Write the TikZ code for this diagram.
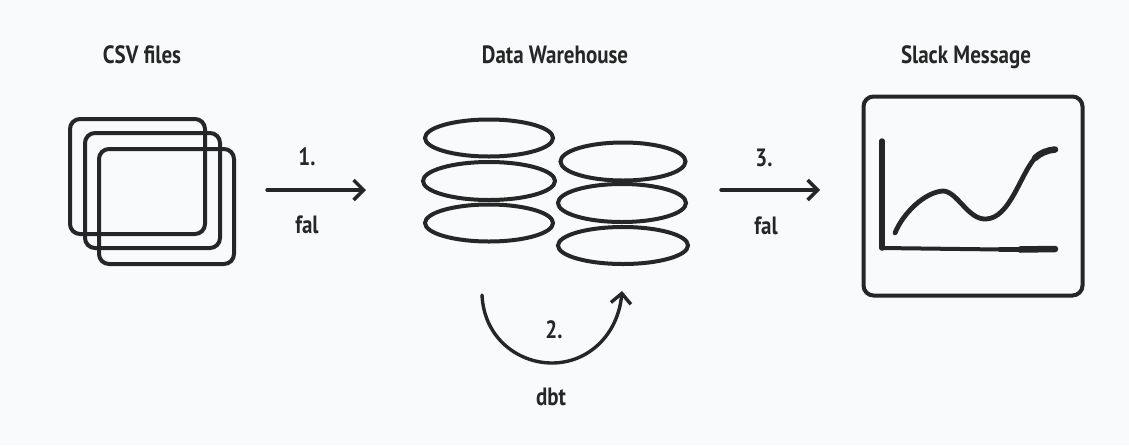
\documentclass[tikz,border=0pt]{standalone}
\usepackage{fontspec}
\setmainfont[FakeStretch=0.84]{PT Sans}
\usetikzlibrary{arrows.meta,shapes.geometric}
\definecolor{ink}{HTML}{262626}
\definecolor{paper}{HTML}{F9FAFB}
\tikzset{
  sheet/.style={rectangle, draw=ink, line width=4pt, rounded corners=10pt, minimum width=135pt, minimum height=115pt},
  disc/.style={ellipse, draw=ink, line width=4pt, inner sep=0pt},
  title/.style={anchor=base, text=ink, font=\fontsize{25}{25}\selectfont\bfseries},
  step label/.style={anchor=base, text=ink, font=\fontsize{25}{25}\selectfont\bfseries},
  flow/.style={draw=ink, line width=3.4pt, line cap=round, -{Straight Barb[length=10pt,width=20pt,line width=3.4pt]}},
  chart/.style={draw=ink, line cap=round, line join=round}
}
\begin{document}
\begin{tikzpicture}[x=1pt, y=-1pt]
    \useasboundingbox[fill=paper] (0,0) rectangle (1129,445);

    % Titles
    \node (csvtitle) [title] at (142,63) {CSV files};
    \node (dwtitle) [title] at (555,63) {Data Warehouse};
    \node (slacktitle) [title] at (966,63) {Slack Message};

    % CSV sheets
    \node (csv1) [sheet] at (137.5,176.5) {};
    \node (csv2) [sheet] at (152.5,190.5) {};
    \node (csv3) [sheet] at (166.5,206.5) {};

    % Warehouse discs
    \node (dw1) [disc, minimum width=128pt, minimum height=37pt] at (489,138) {};
    \node (dw2) [disc, minimum width=132pt, minimum height=38pt] at (489,181) {};
    \node (dw3) [disc, minimum width=128pt, minimum height=37pt] at (489,223) {};
    \node (dw4) [disc, minimum width=125pt, minimum height=38pt] at (623,161.5) {};
    \node (dw5) [disc, minimum width=128pt, minimum height=38pt] at (622,203) {};
    \node (dw6) [disc, minimum width=130pt, minimum height=37pt] at (623,245.5) {};

    % Slack message
    \node (slack) [sheet, minimum width=219pt, minimum height=199pt] at (973,196) {};
    \draw[chart, line width=5.5pt] (882,141) -- (882,248);
    \draw[chart, line width=4pt] (882,248) -- (1000,249.5);
    \draw[chart, line width=5pt] (1000,249.5) -- (1020,249.5);
    \draw[chart, line width=6.5pt] (1020,249.5) -- (1055,249);
    \draw[chart, line width=4.8pt] (895,233) .. controls (903,213) and (925,192) .. (943,191)
      .. controls (957,191) and (968,220) .. (986,219)
      .. controls (1010,218) and (1020,175) .. (1035,158);
    \draw[chart, line width=6.5pt] (1035,158) .. controls (1040,153) and (1048,150) .. (1055,149.5);

    % Arrow ends
    \coordinate (load1) at (267,190);
    \coordinate (load2) at (366,190);
    \coordinate (send1) at (721,190);
    \coordinate (send2) at (820,190);
    \coordinate (dbt1) at (482,295);
    \coordinate (dbt2) at (622,291);

    % Edges
    \draw[flow] (load1) -- (load2);
    \draw[flow] (send1) -- (send2);
    \draw[flow] (dbt1) .. controls (484,338) and (518,363) .. (552,363)
      .. controls (588,363) and (618,335) .. (dbt2);

    % Labels
    \node (one) [step label] at (307,165) {1.};
    \node (fal1) [step label] at (307,233) {fal};
    \node (two) [step label] at (554,338) {2.};
    \node (dbt) [step label] at (551,405) {dbt};
    \node (three) [step label] at (764,166) {3.};
    \node (fal2) [step label] at (766,234) {fal};
\end{tikzpicture}
\end{document}
